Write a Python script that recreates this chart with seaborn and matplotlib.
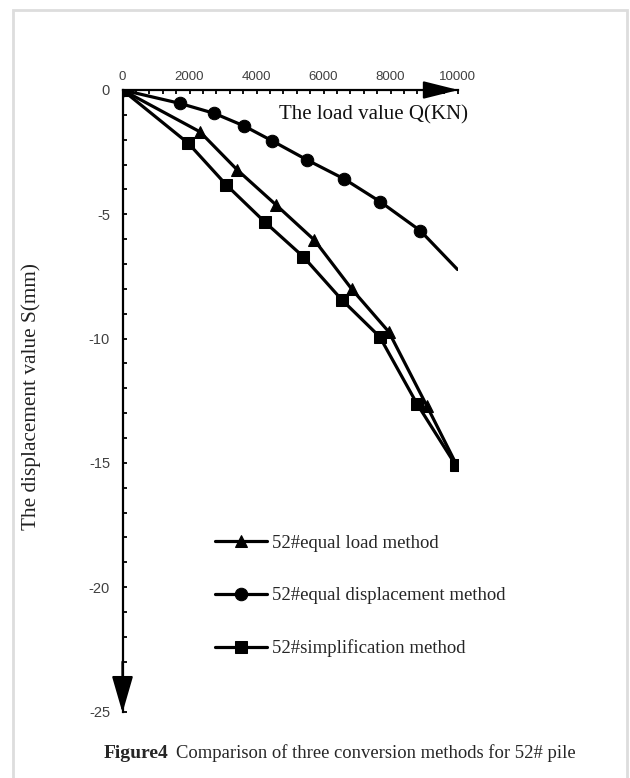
import numpy as np
import pandas as pd
import seaborn as sns
import matplotlib.pyplot as plt
from matplotlib.patches import Rectangle
from matplotlib.ticker import MultipleLocator

# load Q (kN) and displacement S (mm)
load_eq_load = [0, 2310, 3430, 4590, 5730, 6850, 7950, 9090, 9980]
disp_eq_load = [0, -1.68, -3.22, -4.63, -6.04, -8.02, -9.73, -12.72, -15.1]

load_eq_disp = [0, 1720, 2740, 3620, 4460, 5520, 6620, 7700, 8890, 10000]
disp_eq_disp = [0, -0.54, -0.94, -1.44, -2.04, -2.82, -3.58, -4.50, -5.66, -7.22]
marker_every_disp = list(range(9))  # last point has no marker

load_simpl = [0, 1970, 3100, 4240, 5400, 6540, 7680, 8790, 9950]
disp_simpl = [0, -2.15, -3.82, -5.30, -6.71, -8.43, -9.93, -12.62, -15.1]

series_labels = ['52#equal load method', '52#equal displacement method', '52#simplification method']
x_ticks = [0, 2000, 4000, 6000, 8000, 10000]
y_ticks = [0, -5, -10, -15, -20, -25]

sns.set_theme(style='white')
plt.rcParams['font.family'] = ['Liberation Serif', 'DejaVu Serif']
plt.rcParams['axes.unicode_minus'] = False

W, H = 630, 778
fig = plt.figure(figsize=(W / 100, H / 100), dpi=100)
ax = fig.add_axes([122.5 / W, 1 - 711.5 / H, 335 / W, 621.5 / H])
ax.set_facecolor('none')

lw = 2.3
sns.lineplot(x=load_eq_load, y=disp_eq_load, sort=False, color='black', lw=lw,
             marker='^', markersize=9, markeredgecolor='black', label=series_labels[0], ax=ax)
sns.lineplot(x=load_eq_disp, y=disp_eq_disp, sort=False, color='black', lw=lw,
             marker='o', markersize=9, markeredgecolor='black', markevery=marker_every_disp,
             label=series_labels[1], ax=ax)
sns.lineplot(x=load_simpl, y=disp_simpl, sort=False, color='black', lw=lw,
             marker='s', markersize=9, markeredgecolor='black', label=series_labels[2], ax=ax)

ax.set_xlim(0, 10000)
ax.set_ylim(-25, 0)
ax.set_xticks(x_ticks)
ax.set_yticks(y_ticks)
ax.xaxis.set_minor_locator(MultipleLocator(400))
ax.yaxis.set_minor_locator(MultipleLocator(1))
ax.xaxis.tick_top()

for s in ['right', 'bottom']:
    ax.spines[s].set_visible(False)
for s in ['top', 'left']:
    ax.spines[s].set_linewidth(1.6)
    ax.spines[s].set_color('black')
    ax.spines[s].set_zorder(1)

ax.tick_params(axis='x', which='both', direction='in', length=3, width=1.3, color='black',
               pad=5, labelsize=9.5, labelcolor='#404040', top=True, bottom=False)
ax.tick_params(axis='y', which='both', direction='in', length=3, width=1.3, color='black',
               pad=9, labelsize=10.5, labelcolor='#404040', left=True, right=False)
for lab in ax.get_xticklabels() + ax.get_yticklabels():
    lab.set_family(['Liberation Sans', 'DejaVu Sans'])

# axis arrows
ax.annotate('', xy=(1.003, 1.0), xytext=(0.9, 1.0), xycoords='axes fraction',
            arrowprops=dict(arrowstyle='-|>,head_length=1.8,head_width=0.45',
                            color='black', lw=1.6, shrinkA=0, shrinkB=0), annotation_clip=False)
ax.annotate('', xy=(0.0, -0.002), xytext=(0.0, 0.08), xycoords='axes fraction',
            arrowprops=dict(arrowstyle='-|>,head_length=1.9,head_width=0.55',
                            color='black', lw=1.6, shrinkA=0, shrinkB=0), annotation_clip=False)

ax.set_xlabel('')
ax.set_ylabel('')
ax.text(1.031, 0.9598, 'The load value Q(KN)', transform=ax.transAxes, ha='right', va='center',
        fontsize=15, color='#111111')
fig.text(31 / W, 1 - 397 / H, 'The displacement value S(mm)', rotation=90, ha='center', va='center',
         fontsize=15.3, color='#222222')

leg = ax.legend(loc='center left', bbox_to_anchor=((215 - 122.5) / 335, (711.5 - 596) / 621.5),
                frameon=False, fontsize=13.5, handlelength=2.75, handletextpad=0.28,
                labelspacing=1.88, borderpad=0, borderaxespad=0)

fig.text(104 / W, 1 - 753 / H, 'Figure4', fontweight='bold', fontsize=14, ha='left', va='center')
fig.text(176 / W, 1 - 753 / H, 'Comparison of three conversion methods for 52# pile',
         fontsize=13.4, ha='left', va='center')

# light frame around the figure
fig.patches.append(Rectangle((13 / W, -0.02), (627 - 13) / W, 1 - 10 / H + 0.02,
                             transform=fig.transFigure, fill=False, edgecolor='#dddddd', lw=2))

fig.savefig('out.png', dpi=100)
